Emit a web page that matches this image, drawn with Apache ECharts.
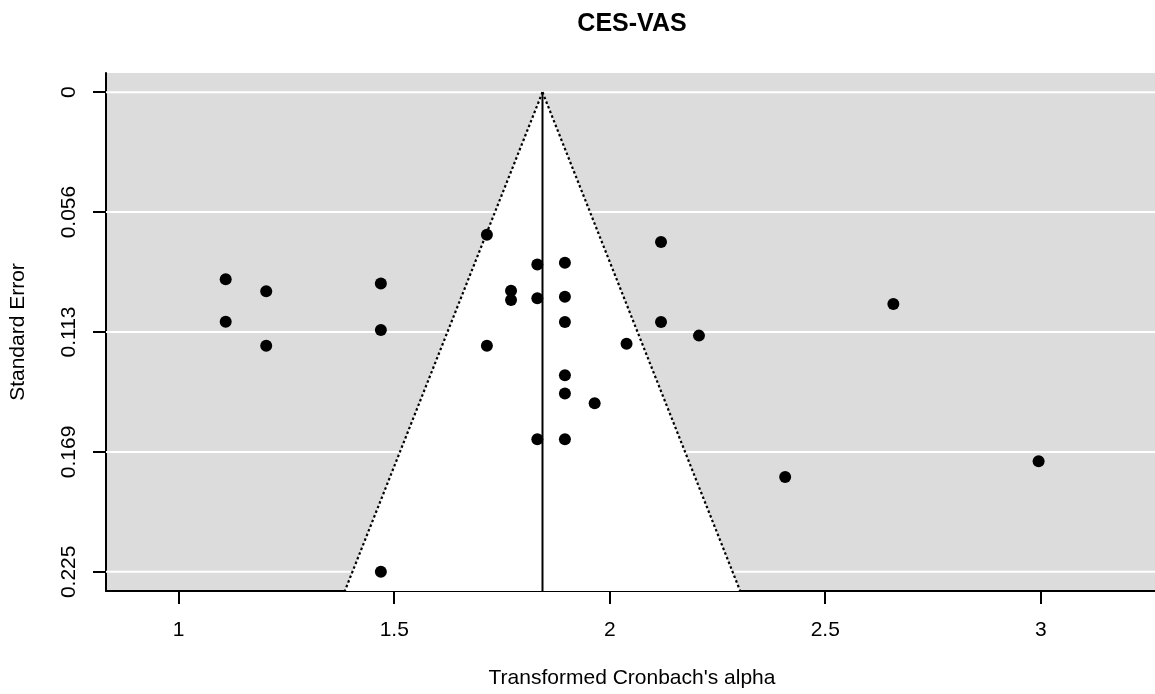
<!DOCTYPE html>
<html>
<head>
<meta charset="utf-8">
<title>CES-VAS</title>
<script src="https://cdn.jsdelivr.net/npm/echarts@6/dist/echarts.min.js"></script>
<style>
  html, body { margin: 0; padding: 0; background: #ffffff; }
  #chart { width: 1155px; height: 694px; }
</style>
</head>
<body>
<div id="chart"></div>
<script>
// Study estimates (transformed Cronbach's alpha) and their standard errors
const estimates = [
  1.109, 1.203, 1.109, 1.203, 1.469, 1.469, 1.715, 1.832, 1.896, 1.771,
  1.771, 1.832, 1.896, 1.896, 1.715, 2.039, 2.119, 2.119, 2.207, 1.896,
  1.896, 1.965, 1.832, 1.896, 2.658, 2.407, 2.995, 1.469
];
const standardErrors = [
  0.0877, 0.0934, 0.1077, 0.1189, 0.0897, 0.1116, 0.0669, 0.0808, 0.0800, 0.0931,
  0.0975, 0.0967, 0.0960, 0.1078, 0.1189, 0.1180, 0.0703, 0.1078, 0.1142, 0.1328,
  0.1414, 0.1459, 0.1628, 0.1628, 0.0994, 0.1805, 0.1731, 0.2250
];

// Pooled estimate (funnel centre) and pseudo-confidence multiplier
const pooledEstimate = 1.844;
const zCrit = 1.96;

// Axis extents and ticks
const xRange = [0.8313, 3.272];
const yRange = [-0.009, 0.234];
const xTickValues = [1, 1.5, 2, 2.5, 3];
const xTickLabels = ['1', '1.5', '2', '2.5', '3'];
const yTickValues = [0, 0.05625, 0.1125, 0.16875, 0.225];
const yTickLabels = ['0', '0.056', '0.113', '0.169', '0.225'];

const FONT = '"Liberation Sans", Arial, Helvetica, sans-serif';
const LABEL_SIZE = 21;

const points = estimates.map((v, i) => [v, standardErrors[i]]);
const seBottom = yRange[1];
const funnelLeft = [[pooledEstimate, 0], [pooledEstimate - zCrit * seBottom, seBottom]];
const funnelRight = [[pooledEstimate, 0], [pooledEstimate + zCrit * seBottom, seBottom]];

const chart = echarts.init(document.getElementById('chart'), null, { renderer: 'canvas' });

// Background layer: white reference lines at the y ticks, then the white funnel over them
function renderBackground(params, api) {
  const x0 = api.coord([xRange[0], 0])[0];
  const x1 = api.coord([xRange[1], 0])[0];
  const children = yTickValues.map(v => {
    const y = api.coord([xRange[0], v])[1];
    return {
      type: 'line',
      shape: { x1: x0, y1: y, x2: x1, y2: y },
      style: { stroke: '#ffffff', lineWidth: 2 }
    };
  });
  children.push({
    type: 'polygon',
    shape: { points: [api.coord(funnelLeft[0]), api.coord(funnelLeft[1]), api.coord(funnelRight[1])] },
    style: { fill: '#ffffff', stroke: null }
  });
  return { type: 'group', children };
}

chart.setOption({
  animation: false,
  backgroundColor: '#ffffff',
  title: {
    text: 'CES-VAS',
    left: 627,
    top: 7,
    textAlign: 'center',
    textStyle: { fontFamily: FONT, fontWeight: 'bold', fontSize: 25, color: '#000' }
  },
  grid: {
    left: 106, top: 73, right: -3, bottom: 103,
    show: true, backgroundColor: '#dcdcdc', borderWidth: 0,
    containLabel: false, outerBoundsMode: 'none'
  },
  xAxis: {
    type: 'value',
    min: xRange[0], max: xRange[1],
    name: "Transformed Cronbach's alpha",
    nameLocation: 'middle',
    nameGap: 77,
    nameTextStyle: { fontFamily: FONT, fontSize: LABEL_SIZE, color: '#000' },
    axisLine: { show: true, onZero: false, lineStyle: { color: '#000', width: 2 } },
    axisTick: { show: true, length: 13, customValues: xTickValues, lineStyle: { color: '#000', width: 2 } },
    axisLabel: {
      show: true, margin: 29, customValues: xTickValues,
      fontFamily: FONT, fontSize: LABEL_SIZE, color: '#000',
      formatter: v => xTickLabels[xTickValues.indexOf(v)] ?? String(v)
    },
    splitLine: { show: false }
  },
  yAxis: {
    type: 'value',
    inverse: true,
    min: yRange[0], max: yRange[1],
    name: 'Standard Error',
    nameLocation: 'middle',
    nameGap: 77,
    nameTextStyle: { fontFamily: FONT, fontSize: LABEL_SIZE, color: '#000' },
    axisLine: { show: true, onZero: false, lineStyle: { color: '#000', width: 2 } },
    axisTick: { show: true, length: 13, customValues: yTickValues, lineStyle: { color: '#000', width: 2 } },
    axisLabel: {
      show: true, margin: 26, rotate: 90, customValues: yTickValues,
      fontFamily: FONT, fontSize: LABEL_SIZE, color: '#000',
      formatter: v => {
        const i = yTickValues.findIndex(t => Math.abs(t - v) < 1e-9);
        return i >= 0 ? yTickLabels[i] : String(v);
      }
    },
    splitLine: { show: false }
  },
  series: [
    {
      type: 'custom',
      z: 1,
      silent: true,
      clip: true,
      data: [[pooledEstimate, 0]],
      renderItem: renderBackground
    },
    {
      type: 'line', z: 3, silent: true, symbol: 'none',
      data: funnelLeft,
      lineStyle: { color: '#000', width: 2.2, type: [2.5, 2.5] }
    },
    {
      type: 'line', z: 3, silent: true, symbol: 'none',
      data: funnelRight,
      lineStyle: { color: '#000', width: 2.2, type: [2.5, 2.5] }
    },
    {
      type: 'line', z: 3, silent: true, symbol: 'none',
      data: [[pooledEstimate, 0], [pooledEstimate, seBottom]],
      lineStyle: { color: '#000', width: 2, type: 'solid' }
    },
    {
      type: 'scatter', z: 4,
      symbol: 'circle', symbolSize: 12,
      itemStyle: { color: '#000', opacity: 1 },
      data: points
    }
  ]
});
</script>
</body>
</html>
